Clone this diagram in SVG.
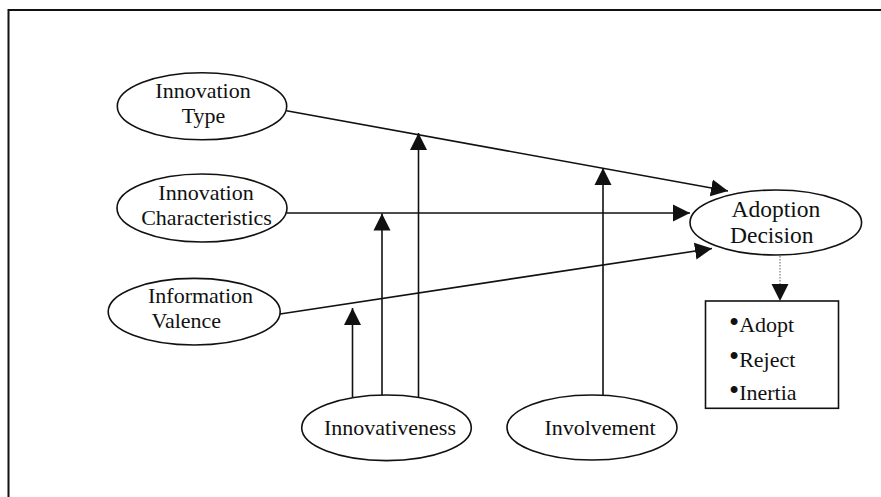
<svg xmlns="http://www.w3.org/2000/svg" width="881" height="497" viewBox="0 0 881 497">
<style>
.n{fill:#fff;stroke:#111;stroke-width:1.6}
text{font-family:'Liberation Serif','DejaVu Serif',serif;font-size:22px;fill:#111}
.tc{text-anchor:middle}
.big{font-size:23.5px}
.c{stroke:#111;stroke-width:1.6;fill:none}
.d{stroke:#777;stroke-width:1.2;stroke-dasharray:1.5 1.5;fill:none}
.bul{font-size:29px}
</style>
<defs>
<marker id="ah" markerUnits="userSpaceOnUse" markerWidth="18" markerHeight="18" viewBox="0 0 18 18" refX="17" refY="9" orient="auto">
<path d="M0,0.5 L17,9 L0,17.5 z" fill="#111"/>
</marker>
</defs>
<rect width="881" height="497" fill="#fff"/>
<path d="M8.5,497 L8.5,10 L881,10" fill="none" stroke="#111" stroke-width="2"/>
<g id="connectors">
<line class="c" x1="286.5" y1="110.7" x2="728" y2="191" marker-end="url(#ah)"/>
<line class="c" x1="287" y1="213" x2="690" y2="213" marker-end="url(#ah)"/>
<line class="c" x1="280" y1="314" x2="712" y2="248.5" marker-end="url(#ah)"/>
<line class="c" x1="352.5" y1="397" x2="352.5" y2="308" marker-end="url(#ah)"/>
<line class="c" x1="382" y1="395" x2="382" y2="213.5" marker-end="url(#ah)"/>
<line class="c" x1="418.5" y1="397" x2="418.5" y2="133" marker-end="url(#ah)"/>
<line class="c" x1="603" y1="395" x2="603" y2="168" marker-end="url(#ah)"/>
<line class="d" x1="780" y1="256" x2="780" y2="290"/>
<path d="M771.5,284 L788.5,284 L780,301 z" fill="#111"/>
</g>
<g id="innovation-type">
<ellipse class="n" cx="202" cy="106.3" rx="84.7" ry="33.5"/>
<text class="tc" x="203" y="98.3">Innovation</text>
<text class="tc" x="203.5" y="123.3">Type</text>
</g>
<g id="innovation-characteristics">
<ellipse class="n" cx="202" cy="208" rx="85" ry="34"/>
<text class="tc" x="206" y="200.3">Innovation</text>
<text class="tc" x="206.5" y="225.3">Characteristics</text>
</g>
<g id="information-valence">
<ellipse class="n" cx="194.2" cy="311.7" rx="86" ry="33.3"/>
<text x="148" y="303.3">Information</text>
<text x="151.5" y="328.3">Valence</text>
</g>
<g id="adoption-decision">
<ellipse class="n" cx="775.8" cy="222.5" rx="85.8" ry="32.5"/>
<text class="big" x="731.5" y="217.3">Adoption</text>
<text class="big" x="730" y="243.3">Decision</text>
</g>
<g id="outcomes">
<rect class="n" x="705.5" y="301" width="133" height="107.3"/>
<text x="729"><tspan class="bul" y="332">•</tspan><tspan y="332.3">Adopt</tspan></text>
<text x="729"><tspan class="bul" y="366.4">•</tspan><tspan y="366.7">Reject</tspan></text>
<text x="729"><tspan class="bul" y="399.7">•</tspan><tspan y="400">Inertia</tspan></text>
</g>
<g id="innovativeness">
<ellipse class="n" cx="386.5" cy="427.8" rx="84.8" ry="32.8"/>
<text class="tc" x="390" y="435">Innovativeness</text>
</g>
<g id="involvement">
<ellipse class="n" cx="592" cy="427.5" rx="85" ry="32.5"/>
<text class="tc" x="600" y="435">Involvement</text>
</g>
</svg>
